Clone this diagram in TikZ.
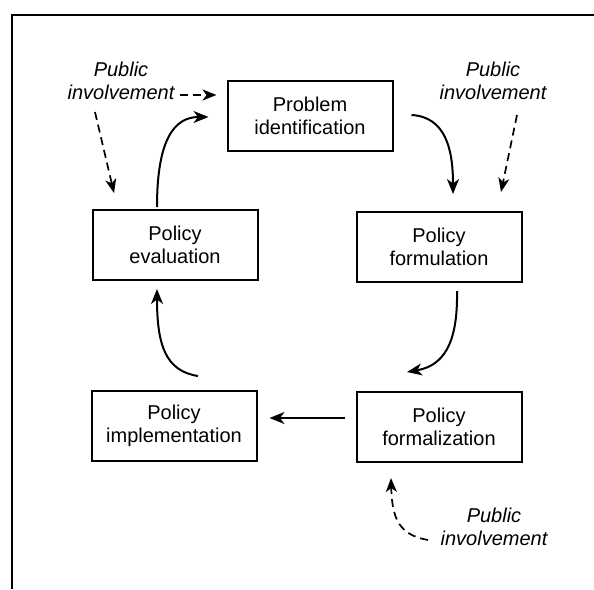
\documentclass[tikz,border=0pt]{standalone}
\usepackage{fontspec}
\setmainfont{Liberation Sans}
\usetikzlibrary{arrows.meta}
\begin{document}
\begin{tikzpicture}[x=1pt,y=-1pt,
  stage/.style={draw, line width=2pt, minimum width=165pt, minimum height=70pt,
    align=center, inner sep=0pt, font=\fontsize{20}{23}\selectfont},
  note/.style={align=center, inner sep=0pt, font=\fontsize{20}{23}\selectfont\itshape},
  flow/.style={line width=2pt, -{Stealth[length=15pt,width=12pt,inset=4.5pt]}},
  input/.style={line width=1.7pt, dash pattern=on 8pt off 5pt,
    -{Stealth[length=14pt,width=11pt,inset=4pt]}}
]
\useasboundingbox (0,0) rectangle (594,589);
% open frame: left and top rules
\draw[line width=2.2pt] (12,589) -- (12,15) -- (594,15);

% stages of the cycle
\node[stage] (pi)  at (310,116) {Problem\\identification};
\node[stage] (pe)  at (175,245) {Policy\\evaluation};
\node[stage] (pf)  at (439,247) {Policy\\formulation};
\node[stage] (pim) at (174,426) {Policy\\implementation};
\node[stage] (pfz) at (439,427) {Policy\\formalization};

% public involvement notes
\node[note] (ntl) at (121,81)  {Public\\involvement};
\node[note] (ntr) at (493,81)  {Public\\involvement};
\node[note] (nbr) at (494,527) {Public\\involvement};

\coordinate (tlA) at (180,95);
\coordinate (tlB) at (95,112);
\coordinate (trA) at (517,115);
\coordinate (brA) at (428,540);

% cycle connectors
\draw[flow] ([shift={(-18,-2)}]pe.north) .. controls ([shift={(-18,-70)}]pe.north)
  and ([shift={(-52,1)}]pi.west) .. ([shift={(-18,1)}]pi.west);
\draw[flow] ([shift={(18,-1)}]pi.east) .. controls ([shift={(52,1)}]pi.east)
  and ([shift={(14,-62)}]pf.north) .. ([shift={(14,-17)}]pf.north);
\draw[flow] ([shift={(18,8)}]pf.south) .. controls ([shift={(19,63)}]pf.south)
  and ([shift={(3,-25)}]pfz.north) .. ([shift={(-32,-19)}]pfz.north);
\draw[flow] ([shift={(-11,-9)}]pfz.west) -- ([shift={(12,-8)}]pim.east);
\draw[flow] ([shift={(24,-14)}]pim.north) .. controls ([shift={(-8,-19)}]pim.north)
  and ([shift={(-18,65)}]pe.south) .. ([shift={(-18,8)}]pe.south);

% public involvement inputs
\draw[input] (tlA) -- ([shift={(-10,-21)}]pi.west);
\draw[input] (tlB) -- ([shift={(-61,-16)}]pe.north);
\draw[input] (trA) -- ([shift={(62,-19)}]pf.north);
\draw[input] (brA) .. controls (400,535) and (392,520) .. ([shift={(-48,15)}]pfz.south);
\end{tikzpicture}
\end{document}
